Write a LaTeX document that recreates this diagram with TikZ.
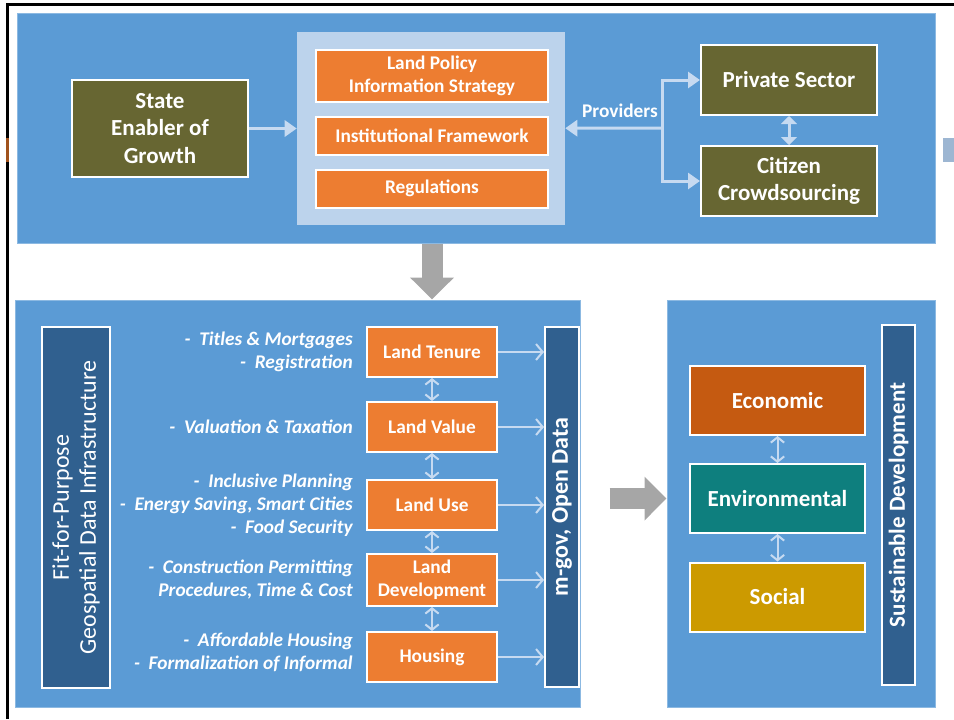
\documentclass[tikz,border=0pt]{standalone}
\usepackage{fontspec}
\setmainfont{Carlito}
\usetikzlibrary{
  arrows.meta,
  chains,
  scopes,
  positioning
}
\definecolor{panelblue}{HTML}{5B9BD5}
\definecolor{innerblue}{HTML}{BCD3EC}
\definecolor{boxorange}{HTML}{ED7D31}
\definecolor{boxolive}{HTML}{676632}
\definecolor{bardark}{HTML}{30608F}
\definecolor{econ}{HTML}{C55A11}
\definecolor{envi}{HTML}{0E7F7E}
\definecolor{soci}{HTML}{CC9A00}
\definecolor{linkblue}{HTML}{C6DAF1}
\definecolor{bigarrow}{HTML}{A6A6A6}
\definecolor{edgegrey}{HTML}{9DB6D2}
\definecolor{edgeorange}{HTML}{A0521D}

\begin{document}
\begin{tikzpicture}[x=0.75pt,y=-0.75pt,
      panel/.style={
         rectangle,
         fill=panelblue,
         draw=panelblue!70!white,
         line width=0.75pt
      },
      box/.style={
         rectangle,
         draw=white,
         line width=1.5pt,
         text=white,
         align=center,
         inner sep=1pt,
         font=\bfseries\fontsize{14.5}{17.25}\selectfont
      },
      orange box/.style={box, fill=boxorange},
      olive box/.style={box, fill=boxolive, minimum width=132pt,
         font=\bfseries\fontsize{17.25}{20.5}\selectfont},
      dim box/.style={box, minimum width=131.25pt, minimum height=51.75pt,
         font=\bfseries\fontsize{17.25}{20.5}\selectfont},
      bar/.style={box, fill=bardark, rotate=90},
      note/.style={
         text=white,
         anchor=east,
         align=right,
         inner sep=0pt,
         font=\bfseries\itshape\fontsize{14.5}{17.25}\selectfont
      },
      point/.style={coordinate},
      link/.style={draw=linkblue, line width=2.25pt},
      thin link/.style={draw=linkblue, line width=1.5pt},
      tip/.style={-{Triangle[length=9pt,width=12pt]}},
      barb/.style={-{Straight Barb[length=5pt,width=12pt]}},
      both barb/.style={{Straight Barb[length=4pt,width=10pt]}-{Straight Barb[length=4pt,width=10pt]}},
      vh path/.style={to path={|- (\tikztotarget)}},
      big arrow/.style={draw=bigarrow, line width=15.75pt,
         -{Triangle[length=16.5pt,width=32pt]}}
    ]
    \useasboundingbox (0,0) rectangle (954,719);
    \draw[line width=2.25pt] (7,719) -- (7,4) -- (954,4);
    \fill[edgeorange] (5.5,138) rectangle (8.5,162);
    \fill[edgegrey] (943,138) rectangle (954,162);

    \node (p1) [panel, minimum width=688.5pt, minimum height=172.5pt] at (476,128) {};
    \node (p2) [panel, minimum width=423.75pt, minimum height=305.25pt] at (297.5,503.5) {};
    \node (p3) [panel, minimum width=201pt, minimum height=305.25pt] at (801,503.5) {};

    \node (n12) [rectangle, fill=innerblue, minimum width=201pt, minimum height=144.75pt] at (431,128.5) {};
    \node (n13) [orange box, minimum width=174pt, minimum height=39pt] at (432,76) {Land Policy\\Information Strategy};
    \node (n14) [orange box, minimum width=174pt, minimum height=28.5pt] at (432,136) {Institutional Framework};
    \node (n15) [orange box, minimum width=174pt, minimum height=28.5pt] at (432,188.5) {Regulations};
    \node (n11) [olive box, minimum height=72.75pt] at (160,128.5) {State\\Enabler of\\Growth};
    \node (n16) [olive box, minimum height=52.5pt] at (789,80) {Private Sector};
    \node (n17) [olive box, minimum height=52.5pt] at (789,181) {Citizen\\Crowdsourcing};
    \node (j1) [point] at (662,128) {};
    \node (t1) [text=white, font=\bfseries\fontsize{14.5}{17}\selectfont] at (620,111) {Providers};

    \node (n21) [bar, minimum width=270.75pt, minimum height=51pt,
       font=\fontsize{18}{20.25}\selectfont] at (76,507.5) {Fit-for-Purpose\\Geospatial Data Infrastructure};
    \node (n22) [orange box, minimum width=97.5pt, minimum height=37.5pt] at (432,352) {Land Tenure};
    \node (n23) [orange box, minimum width=97.5pt, minimum height=37.5pt] at (432,427) {Land Value};
    \node (n24) [orange box, minimum width=97.5pt, minimum height=37.5pt] at (432,505) {Land Use};
    \node (n25) [orange box, minimum width=97.5pt, minimum height=39pt] at (432,580) {Land\\Development};
    \node (n26) [orange box, minimum width=97.5pt, minimum height=37.5pt] at (432,657) {Housing};
    \node (n27) [bar, minimum width=270pt, minimum height=25.5pt,
       font=\bfseries\fontsize{18}{20}\selectfont] at (562,507) {m-gov, Open Data};
    \node (l22) [note] at (353,352) {-\ \ Titles \& Mortgages\\-\ \ Registration};
    \node (l23) [note] at (353,427) {-\ \ Valuation \& Taxation};
    \node (l24) [note] at (353,505) {-\ \ Inclusive Planning\\-\ \ Energy Saving, Smart Cities\\-\ \ Food Security};
    \node (l25) [note] at (353,580) {-\ \ Construction Permitting\\Procedures, Time \& Cost};
    \node (l26) [note] at (353,652) {-\ \ Affordable Housing\\-\ \ Formalization of Informal};

    \node (n31) [dim box, fill=econ] at (777.5,400.5) {Economic};
    \node (n32) [dim box, fill=envi] at (777.5,498.5) {Environmental};
    \node (n33) [dim box, fill=soci] at (777.5,597) {Social};
    \node (n34) [bar, minimum width=270pt, minimum height=24.75pt,
       font=\bfseries\fontsize{17.25}{20}\selectfont] at (898.5,505) {Sustainable Development};

    \draw[big arrow] (n22 |- p1.south) -- (n22 |- p2.north);
    \draw[big arrow, shorten <=21.75pt] (p2.east |- n32) -- (p3.west |- n32);

  { [start chain]
       \chainin (n11);
       \chainin (n12)    [join=by {link,tip}];
  }
  { [start chain]
       \chainin (j1);
       \chainin (n12)    [join=by {link,tip}];
  }
  { [start chain]
       \chainin (j1);
       \chainin (n16)    [join=by {vh path,link,tip}];
  }
  { [start chain]
       \chainin (j1);
       \chainin (n17)    [join=by {vh path,link,tip}];
  }
    \draw[link, {Triangle[length=6pt,width=12pt]}-{Triangle[length=6pt,width=12pt]}] (n16) -- (n17);
    \foreach \a/\b in {n22/n23,n23/n24,n24/n25,n25/n26,n31/n32,n32/n33}
       \draw[thin link, both barb] (\a) -- (\b);
    \foreach \a in {n22,n23,n24,n25,n26}
       \draw[thin link, barb] (\a.east) -- (\a.east -| n27.north);
\end{tikzpicture}
\end{document}
